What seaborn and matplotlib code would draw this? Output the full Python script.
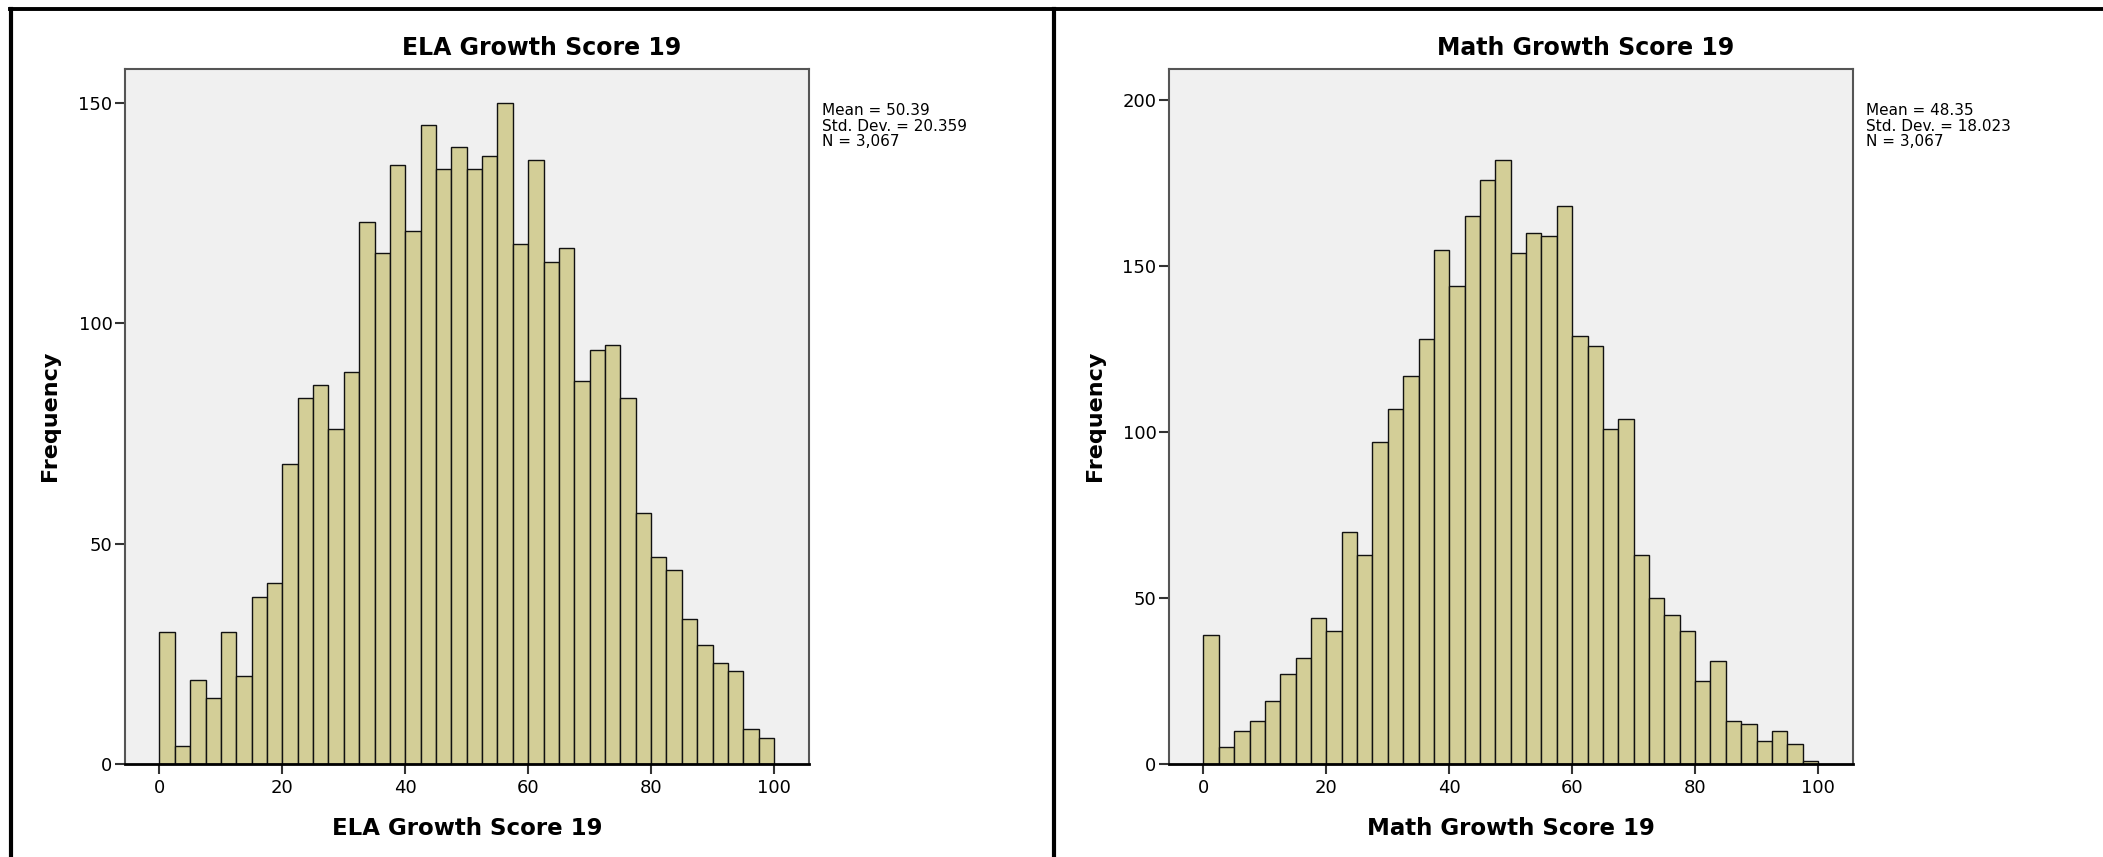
import numpy as np
import pandas as pd
import matplotlib
matplotlib.use("Agg")
import matplotlib.pyplot as plt
from matplotlib.lines import Line2D
import seaborn as sns

# counts per 2.5-point bin, 0..100
bin_width = 2.5
ela_counts = [30, 4, 19, 15, 30, 20, 38, 41, 68, 83,
              86, 76, 89, 123, 116, 136, 121, 145, 135, 140,
              135, 138, 150, 118, 137, 114, 117, 87, 94, 95,
              83, 57, 47, 44, 33, 27, 23, 21, 8, 6]
math_counts = [39, 5, 10, 13, 19, 27, 32, 44, 40, 70,
               63, 97, 107, 117, 128, 155, 144, 165, 176, 182,
               154, 160, 159, 168, 129, 126, 101, 104, 63, 50,
               45, 40, 25, 31, 13, 12, 7, 10, 6, 1]
titles = ["ELA Growth Score 19", "Math Growth Score 19"]
stats = ["Mean = 50.39\nStd. Dev. = 20.359\nN = 3,067",
         "Mean = 48.35\nStd. Dev. = 18.023\nN = 3,067"]
y_ticks = [[0, 50, 100, 150], [0, 50, 100, 150, 200]]
y_tops = [157.7, 209.4]
x_ticks = [0, 20, 40, 60, 80, 100]

W, H = 2103, 857
BAR = "#d3ce97"
BG = "#f0f0f0"

fig = plt.figure(figsize=(W / 100, H / 100), dpi=100)
plt.rcParams["font.family"] = ["DejaVu Sans"]


def px(x, y):
    return x / W, 1 - y / H


def draw_hist(ax, counts, ytop, yt):
    centers = np.arange(len(counts)) * bin_width + bin_width / 2
    df = pd.DataFrame({"score": centers, "count": counts})
    sns.histplot(data=df, x="score", weights="count", binwidth=bin_width,
                 binrange=(0, 100), ax=ax, color=BAR, edgecolor="#111111",
                 linewidth=1.0, alpha=1)
    ax.set_facecolor(BG)
    ax.set_xlim(-5.6, 105.7)
    ax.set_ylim(0, ytop)
    ax.set_xticks(x_ticks)
    ax.set_yticks(yt)
    ax.set_xlabel("")
    ax.set_ylabel("")
    ax.tick_params(axis="both", direction="out", length=7, width=1.5,
                   labelsize=13, pad=2, color="#333333")
    ax.tick_params(axis="x", pad=4)
    for s in ["left", "top", "right"]:
        ax.spines[s].set_color("#555555")
        ax.spines[s].set_linewidth(1.5)
    ax.spines["bottom"].set_color("black")
    ax.spines["bottom"].set_linewidth(2)


panels = [(125, 809, 542, 467, 50, 822), (1169, 1853, 1586, 1511, 1095, 1866)]
data = [ela_counts, math_counts]

for i, (x0, x1, tx, lx, yx, sx) in enumerate(panels):
    l, b = px(x0, 764)
    ax = fig.add_axes([l, b, (x1 - x0) / W, (764 - 69) / H])
    draw_hist(ax, data[i], y_tops[i], y_ticks[i])
    fig.text(*px(tx, 55), titles[i], ha="center", va="baseline",
             fontsize=17, fontweight="bold")
    fig.text(*px(lx, 835), titles[i], ha="center", va="baseline",
             fontsize=16.5, fontweight="bold")
    fig.text(*px(yx, 416), "Frequency", ha="center", va="center",
             rotation=90, fontsize=16, fontweight="bold")
    fig.text(*px(sx, 103), stats[i], ha="left", va="top",
             fontsize=11, linespacing=1.05)

# panel frame lines (cropped output window)
fig.add_artist(Line2D([10 / W, 1], [1 - 8.5 / H] * 2, transform=fig.transFigure,
                      color="black", lw=2.8))
fig.add_artist(Line2D([11 / W] * 2, [0, 1 - 8.5 / H], transform=fig.transFigure,
                      color="black", lw=3))
fig.add_artist(Line2D([1054 / W] * 2, [0, 1 - 8.5 / H], transform=fig.transFigure,
                      color="black", lw=3))

fig.savefig("out.png", dpi=100, facecolor="white")
plt.close(fig)
